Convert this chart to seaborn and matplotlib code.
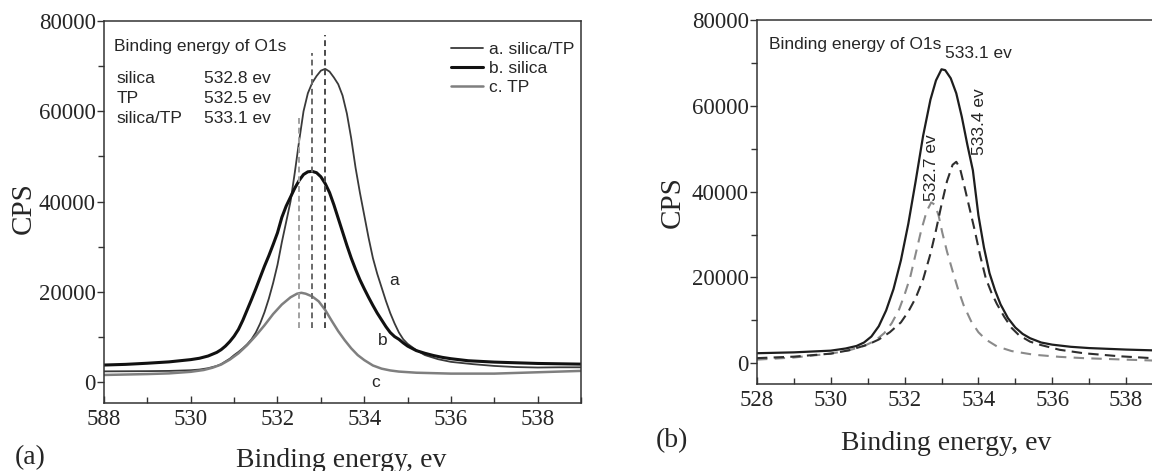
import matplotlib
matplotlib.use("Agg")
import matplotlib.pyplot as plt
from matplotlib.ticker import MultipleLocator, FixedLocator, FixedFormatter
import pandas as pd
import seaborn as sns

# ---------------- data: panel (a) ----------------
a_energy = [528.0, 529.0, 529.5, 530.0, 530.2, 530.4, 530.6, 530.7, 530.8, 530.9,
            531.0, 531.1, 531.2, 531.3, 531.4, 531.5, 531.6, 531.7, 531.8, 531.9,
            532.0, 532.1, 532.2, 532.3, 532.4, 532.5, 532.6, 532.7, 532.8, 532.9,
            533.0, 533.1, 533.2, 533.3, 533.4, 533.5, 533.6, 533.7, 533.8, 533.9,
            534.0, 534.1, 534.2, 534.3, 534.4, 534.5, 534.6, 534.7, 534.8, 534.9,
            535.0, 535.2, 535.4, 535.7, 536.0, 536.5, 537.0, 537.5, 538.0, 538.5, 539.0]
a_cps = [2400, 2450, 2500, 2650, 2800, 3100, 3600, 4000, 4600, 5200,
         6000, 6700, 7500, 8400, 9500, 11000, 13000, 15500, 18500, 22000,
         26000, 31000, 35500, 40000, 46500, 53500, 60000, 64000, 66300, 67800,
         69000, 69400, 68800, 67500, 66000, 63500, 59500, 54000, 47500, 42000,
         37000, 32000, 27500, 24000, 21000, 18000, 15300, 13000, 11000, 9500,
         8500, 7100, 6000, 5100, 4500, 4000, 3600, 3350, 3250, 3300, 3300]

b_energy = [528.0, 528.5, 529.0, 529.5, 530.0, 530.2, 530.4, 530.6, 530.7, 530.8,
            530.9, 531.0, 531.1, 531.2, 531.3, 531.4, 531.5, 531.6, 531.7, 531.8,
            531.9, 532.0, 532.1, 532.2, 532.3, 532.4, 532.5, 532.6, 532.7, 532.8,
            532.9, 533.0, 533.1, 533.2, 533.3, 533.4, 533.5, 533.6, 533.7, 533.8,
            533.9, 534.0, 534.1, 534.2, 534.3, 534.4, 534.5, 534.6, 534.7, 534.8,
            534.9, 535.0, 535.2, 535.4, 535.6, 535.8, 536.0, 536.4, 537.0, 537.5,
            538.0, 539.0]
b_cps = [3800, 3950, 4200, 4500, 5000, 5300, 5800, 6600, 7200, 8000,
         9000, 10200, 11700, 13700, 16000, 18300, 20700, 23200, 25700, 28000,
         30500, 33100, 36500, 39000, 41000, 43000, 44700, 46000, 46600, 46700,
         46400, 45500, 44000, 42000, 39300, 36300, 33300, 30300, 27500, 25000,
         22700, 20700, 18800, 17000, 15300, 13800, 12300, 11000, 10100, 9500,
         8700, 8000, 7000, 6400, 5900, 5500, 5200, 4750, 4450, 4300,
         4150, 4000]

c_energy = [528.0, 529.0, 529.5, 530.0, 530.3, 530.5, 530.7, 530.9, 531.1, 531.3,
            531.5, 531.7, 531.9, 532.1, 532.3, 532.45, 532.55, 532.65, 532.8, 532.95,
            533.1, 533.25, 533.4, 533.55, 533.7, 533.85, 534.0, 534.2, 534.4, 534.6,
            534.8, 535.2, 536.0, 537.0, 538.0, 539.0]
c_cps = [1600, 1800, 1950, 2300, 2700, 3200, 3900, 5000, 6400, 8200,
         10300, 12600, 15100, 17200, 18800, 19600, 19800, 19600, 19000, 17900,
         16000, 13600, 11300, 9300, 7500, 6000, 4900, 3700, 3000, 2600,
         2350, 2100, 1900, 1900, 2200, 2500]

series_labels = ["a. silica/TP", "b. silica", "c. TP"]
curve_tags = ["a", "b", "c"]

peak_pos = [532.5, 532.8, 533.1]
peak_line_top = [58500, 73000, 77000]
peak_line_bottom = [12000, 12000, 12000]

table_names = ["silica", "TP", "silica/TP"]
table_values = ["532.8 ev", "532.5 ev", "533.1 ev"]

x_ticks = [528, 530, 532, 534, 536, 538]
x_ticklabels_a = ["588", "530", "532", "534", "536", "538"]
x_ticklabels_b = ["528", "530", "532", "534", "536", "538"]
y_ticks = [0, 20000, 40000, 60000, 80000]
y_ticklabels = ["0", "20000", "40000", "60000", "80000"]

# ---------------- data: panel (b) ----------------
tot_energy = [528.0, 529.0, 530.0, 530.4, 530.7, 530.9, 531.1, 531.3, 531.5, 531.7,
              531.9, 532.1, 532.3, 532.5, 532.7, 532.85, 533.0, 533.1, 533.25, 533.4,
              533.55, 533.7, 533.85, 534.0, 534.15, 534.3, 534.45, 534.6, 534.8, 535.0,
              535.2, 535.4, 535.7, 536.0, 536.5, 537.0, 538.0, 539.0]
tot_cps = [2300, 2500, 2900, 3400, 4000, 4800, 6200, 8600, 12300, 17300,
           24000, 32500, 42500, 53000, 61500, 66000, 68600, 68400, 66500, 63000,
           57500, 51000, 45000, 34500, 27000, 21000, 17000, 13700, 10500, 8300,
           6800, 5800, 4800, 4300, 3800, 3500, 3150, 2900]

hi_energy = [528.0, 529.0, 530.0, 530.5, 531.0, 531.3, 531.6, 531.9, 532.1, 532.3,
             532.5, 532.7, 532.85, 533.0, 533.15, 533.3, 533.4, 533.5, 533.6, 533.75,
             533.9, 534.05, 534.2, 534.35, 534.5, 534.7, 534.9, 535.1, 535.4, 535.7,
             536.2, 536.85, 537.8, 538.7, 539.0]
hi_cps = [1150, 1500, 2200, 3000, 4300, 5500, 7200, 9500, 12000, 15200,
          19500, 25500, 31000, 37000, 42500, 46300, 47000, 45500, 42000, 36500,
          31000, 25000, 19800, 16500, 13800, 10800, 8200, 6500, 5000, 4200,
          3100, 2300, 1600, 1150, 1050]

lo_energy = [528.0, 529.0, 530.0, 530.5, 530.9, 531.2, 531.45, 531.65, 531.85, 532.0,
             532.15, 532.3, 532.45, 532.6, 532.72, 532.82, 532.92, 533.02, 533.15, 533.3,
             533.45, 533.6, 533.8, 534.0, 534.2, 534.5, 534.9, 535.5, 536.2, 536.85,
             538.0, 538.7, 539.0]
lo_cps = [800, 1300, 2200, 3000, 4000, 5200, 7000, 9300, 12500, 16000,
          20000, 25500, 31000, 35500, 37500, 37000, 34500, 30500, 26000, 21500,
          17200, 13500, 9800, 7200, 5500, 3900, 2800, 1950, 1450, 1150,
          800, 600, 550]

peak_labels_b = ["533.1 ev", "533.4 ev", "532.7 ev"]

# ---------------- style ----------------
sns.set_style("ticks")
SERIF = ["Liberation Serif", "DejaVu Serif"]
SANS = ["Liberation Sans", "DejaVu Sans"]
plt.rcParams["font.family"] = SERIF
plt.rcParams["font.serif"] = ["Liberation Serif", "DejaVu Serif"]
SPINE = "#333333"

fig = plt.figure(figsize=(11.52, 4.71), dpi=100)
ax1 = fig.add_axes([0.0903, 0.1435, 0.4141, 0.8119])
ax2 = fig.add_axes([0.6571, 0.1837, 0.3524, 0.7728])


def style_axes(ax, labels):
    for s in ax.spines.values():
        s.set_linewidth(1.1)
        s.set_color(SPINE)
    ax.set_xlim(528, 539)
    ax.set_ylim(-4700, 80000)
    ax.xaxis.set_major_locator(FixedLocator(x_ticks))
    ax.xaxis.set_major_formatter(FixedFormatter(labels))
    ax.xaxis.set_minor_locator(MultipleLocator(1))
    ax.yaxis.set_major_locator(FixedLocator(y_ticks))
    ax.yaxis.set_major_formatter(FixedFormatter(y_ticklabels))
    ax.yaxis.set_minor_locator(MultipleLocator(10000))
    ax.tick_params(axis="x", which="both", direction="in", color=SPINE, width=1.0,
                   labelsize=16.5, pad=4, top=False)
    ax.tick_params(axis="x", which="major", length=5)
    ax.tick_params(axis="x", which="minor", length=4)
    ax.tick_params(axis="y", which="both", direction="out", color=SPINE, width=1.0,
                   labelsize=16.5, pad=1, right=False)
    ax.tick_params(axis="y", which="major", length=5)
    ax.tick_params(axis="y", which="minor", length=4)
    for lab in ax.get_xticklabels() + ax.get_yticklabels():
        lab.set_family(SERIF)


# ---------------- panel (a) ----------------
df_a = pd.DataFrame({"E": a_energy, "CPS": a_cps})
df_b = pd.DataFrame({"E": b_energy, "CPS": b_cps})
df_c = pd.DataFrame({"E": c_energy, "CPS": c_cps})

sns.lineplot(data=df_a, x="E", y="CPS", ax=ax1, color="#3a3a3a", lw=1.3,
             label=series_labels[0], estimator=None, sort=False)
sns.lineplot(data=df_b, x="E", y="CPS", ax=ax1, color="#111111", lw=2.2,
             label=series_labels[1], estimator=None, sort=False)
sns.lineplot(data=df_c, x="E", y="CPS", ax=ax1, color="#7f7f7f", lw=1.8,
             label=series_labels[2], estimator=None, sort=False)

for xp, yt, yb, col in zip(peak_pos, peak_line_top, peak_line_bottom,
                           ["#a0a0a0", "#6a6a6a", "#4a4a4a"]):
    ax1.vlines(xp, yb, yt, colors=col, linestyles=(0, (3, 2)), lw=1.4)

style_axes(ax1, x_ticklabels_a)
ax1.set_xlabel("Binding energy, ev", fontsize=20, family=SERIF)
ax1.set_ylabel("CPS", fontsize=21, family=SERIF)
ax1.xaxis.set_label_coords(0.497, -0.117)
ax1.yaxis.set_label_coords(-0.14, 0.51)

ax1.legend(loc="upper left", bbox_to_anchor=(0.727, 0.945), frameon=False,
           borderpad=0, borderaxespad=0, handlelength=1.85, handletextpad=0.35,
           labelspacing=0.22, prop={"family": SANS, "size": 12.5})

ax1.text(528.23, 74300, "Binding energy of O1s", family=SANS, fontsize=12.5, va="center")
for nm, val, yv in zip(table_names, table_values, [67300, 62800, 58300]):
    ax1.text(528.28, yv, nm, family=SANS, fontsize=12.5, va="center")
    ax1.text(530.3, yv, val, family=SANS, fontsize=12.5, va="center")

for tag, xv, yv in zip(curve_tags, [534.68, 534.42, 534.27], [22600, 9300, 0]):
    ax1.text(xv, yv, tag, family=SANS, fontsize=12.5, ha="center", va="center")

# ---------------- panel (b) ----------------
df_tot = pd.DataFrame({"E": tot_energy, "CPS": tot_cps})
df_hi = pd.DataFrame({"E": hi_energy, "CPS": hi_cps})
df_lo = pd.DataFrame({"E": lo_energy, "CPS": lo_cps})

sns.lineplot(data=df_lo, x="E", y="CPS", ax=ax2, color="#8a8a8a", lw=1.5,
             linestyle=(0, (5, 3.5)), estimator=None, sort=False)
sns.lineplot(data=df_hi, x="E", y="CPS", ax=ax2, color="#2e2e2e", lw=1.5,
             linestyle=(0, (5, 3)), estimator=None, sort=False)
sns.lineplot(data=df_tot, x="E", y="CPS", ax=ax2, color="#1e1e1e", lw=1.6,
             estimator=None, sort=False)

style_axes(ax2, x_ticklabels_b)
ax2.set_ylim(-5000, 80000)
ax2.spines["right"].set_visible(False)
ax2.set_xlabel("Binding energy, ev", fontsize=20, family=SERIF)
ax2.set_ylabel("CPS", fontsize=21, family=SERIF)
ax2.xaxis.set_label_coords(0.467, -0.129)
ax2.yaxis.set_label_coords(-0.175, 0.50)

ax2.text(528.33, 74300, "Binding energy of O1s", family=SANS, fontsize=12.5, va="center")
ax2.text(533.1, 72200, peak_labels_b[0], family=SANS, fontsize=12.5, va="center")
ax2.text(534.03, 56400, peak_labels_b[1], family=SANS, fontsize=12.5,
         rotation=90, ha="center", va="center")
ax2.text(532.74, 45600, peak_labels_b[2], family=SANS, fontsize=12.5,
         rotation=90, ha="center", va="center")

fig.text(30 / 1152, 1 - 458 / 471, "(a)", fontsize=20, ha="center", va="center", family=SERIF)
fig.text(672 / 1152, 1 - 441 / 471, "(b)", fontsize=20, ha="center", va="center", family=SERIF)

fig.savefig("out.png", dpi=100)
